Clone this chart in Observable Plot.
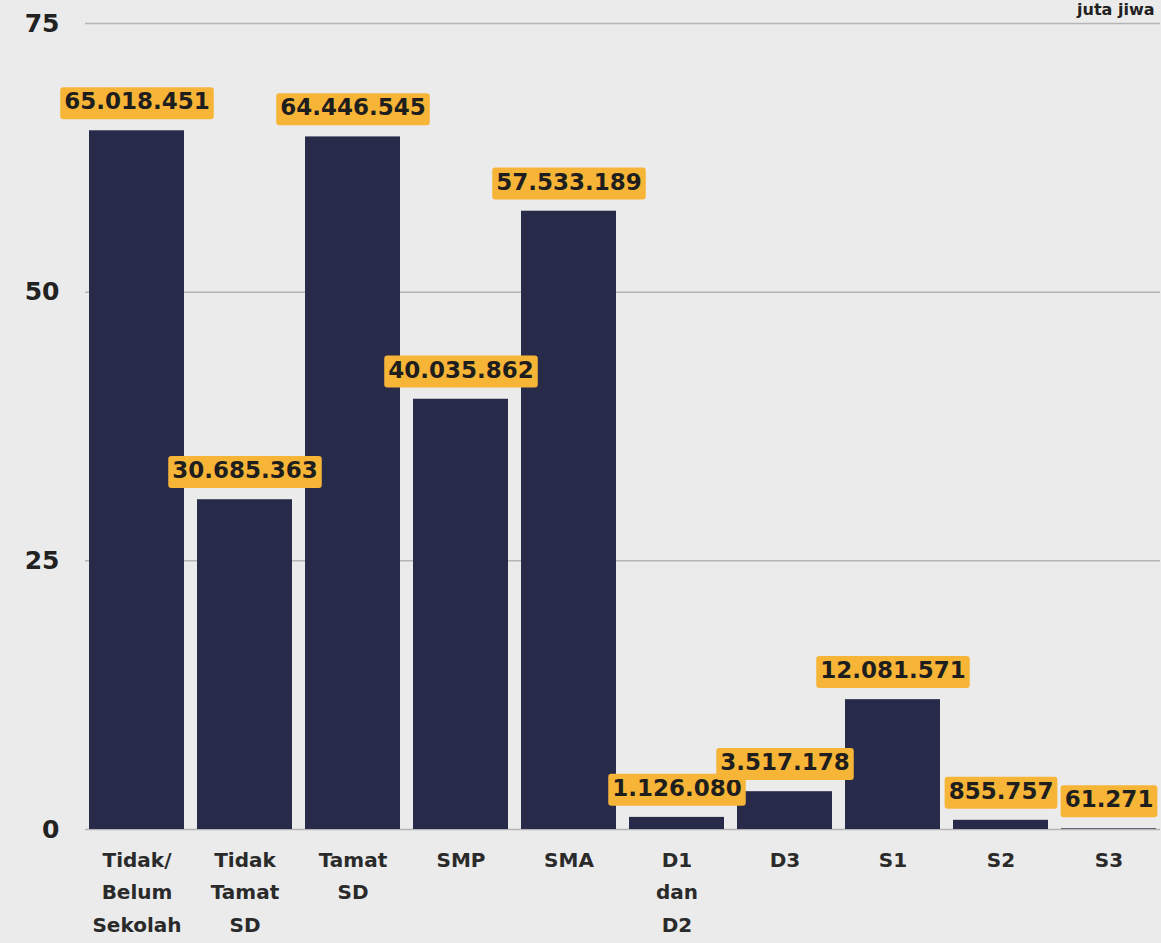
<!DOCTYPE html>
<html><head><meta charset="utf-8">
<script src="https://cdn.jsdelivr.net/npm/d3@7"></script>
<script src="https://cdn.jsdelivr.net/npm/@observablehq/plot@0.6"></script>
<style>html,body{margin:0;padding:0;background:#ebebeb;overflow:hidden}</style>
</head><body><div id="chart"></div>
<script>
const categories = ["Tidak/\nBelum\nSekolah","Tidak\nTamat\nSD","Tamat\nSD","SMP","SMA","D1\ndan\nD2","D3","S1","S2","S3"];
const populations = [65018451, 30685363, 64446545, 40035862, 57533189, 1126080, 3517178, 12081571, 855757, 61271];
const yTicks = [0, 25, 50, 75];
const unitLabel = "juta jiwa";

const idFormat = d3.formatLocale({decimal: ",", thousands: ".", grouping: [3], currency: ["Rp", ""]}).format(",d");
const data = categories.map((c, i) => ({cat: c, juta: populations[i] / 1e6, label: idFormat(populations[i])}));

const chart = Plot.plot({
  width: 1161, height: 943,
  marginLeft: 85, marginRight: 1, marginTop: 23, marginBottom: 114,
  style: {background: "transparent", fontFamily: "DejaVu Sans", color: "#222"},
  x: {domain: categories, paddingInner: 0.12, paddingOuter: 0.02, label: null},
  y: {domain: [0, 75], label: null},
  marks: [
    Plot.ruleY(yTicks, {stroke: "#b5b5b5", strokeWidth: 1.5}),
    Plot.axisY({ticks: yTicks, tickSize: 0, tickPadding: 26, fontSize: 25, fontWeight: "bold", label: null, color: "#222"}),
    Plot.axisX({tickSize: 0, tickPadding: 14, fontSize: 20, fontWeight: "bold", lineHeight: 1.63, label: null, color: "#2a2a2a"}),
    Plot.barY(data, {x: "cat", y: "juta", fill: "#282a4a"}),
    Plot.text(data, {x: "cat", y: "juta", text: "label", dy: -29, fontSize: 23, fontWeight: "bold", fill: "#1e1e1e"}),
    Plot.text([unitLabel], {frameAnchor: "top-right", dy: -20, dx: -6, lineAnchor: "top", textAnchor: "end", fontSize: 16, fontWeight: "bold", fill: "#222"})
  ]
});
document.getElementById("chart").appendChild(chart);

// orange label boxes behind the value texts
const labelGroup = chart.querySelectorAll('g[aria-label="text"]')[0];
labelGroup.querySelectorAll("text").forEach(t => {
  const b = t.getBBox();
  const r = document.createElementNS("http://www.w3.org/2000/svg", "rect");
  r.setAttribute("x", b.x - 4);
  r.setAttribute("y", b.y - 1);
  r.setAttribute("width", b.width + 8);
  r.setAttribute("height", b.height + 6);
  r.setAttribute("rx", 3);
  r.setAttribute("fill", "#f7b538");
  const tr = t.getAttribute("transform");
  if (tr) r.setAttribute("transform", tr);
  t.parentNode.insertBefore(r, t);
});
</script>
</body></html>
